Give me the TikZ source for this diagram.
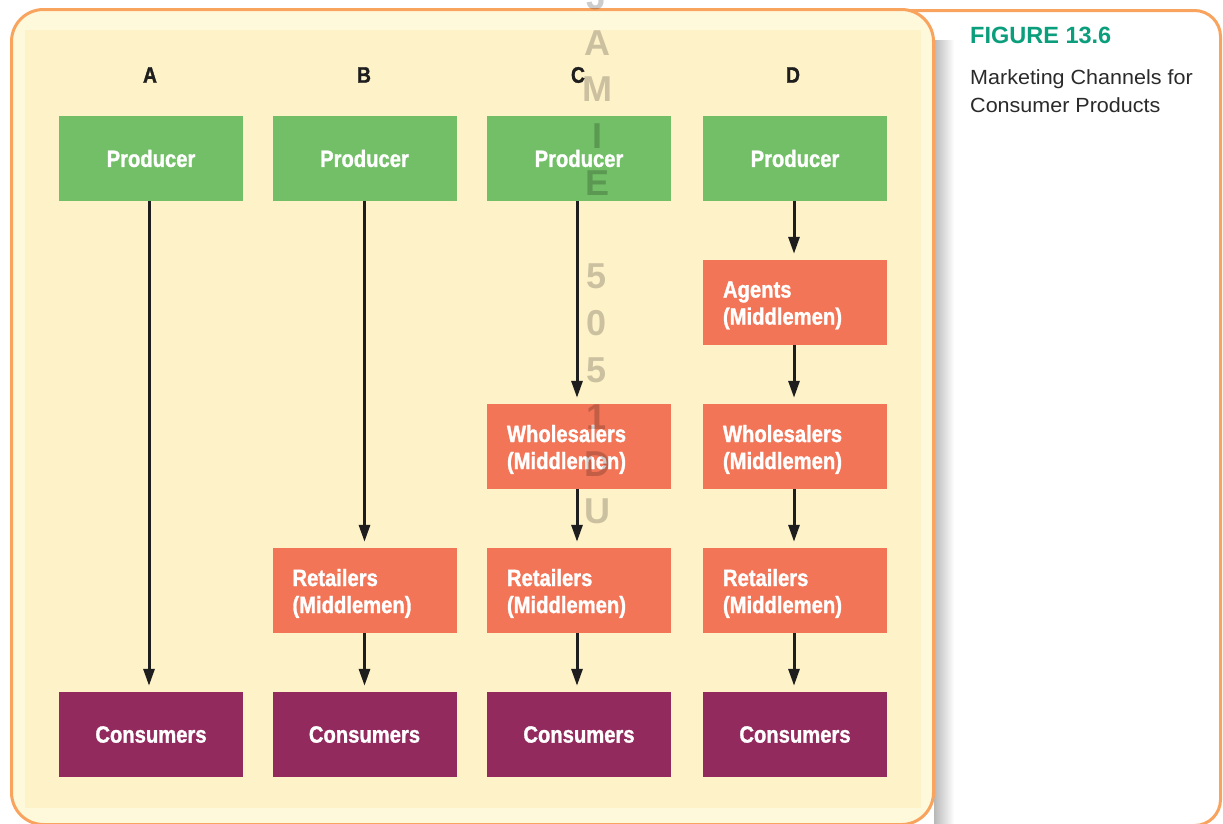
\documentclass[tikz,border=0pt]{standalone}
\usepackage{fontspec}
\setmainfont{Liberation Sans}
\newfontfamily\condfont[FakeStretch=0.86, BoldFeatures={FakeBold=1.3}]{Liberation Sans}
\newfontfamily\widefont[FakeStretch=1.05]{Liberation Sans}
\usetikzlibrary{arrows.meta}
\definecolor{prodgreen}{HTML}{72BF67}
\definecolor{midorange}{HTML}{F37558}
\definecolor{conspurple}{HTML}{922A5E}
\definecolor{outercream}{HTML}{FFF9DB}
\definecolor{innercream}{HTML}{FEF2C8}
\definecolor{bordorange}{HTML}{F8A45F}
\definecolor{titleteal}{HTML}{0B9E7C}
\definecolor{textdark}{HTML}{2A2A2A}
\definecolor{arrowblack}{HTML}{1E1E1E}
\tikzset{
  chbox/.style={minimum width=184pt, minimum height=85pt, inner sep=0pt, text=white,
    font=\condfont\bfseries\fontsize{23.5}{27}\selectfont},
  prod/.style={chbox, fill=prodgreen, align=center},
  cons/.style={chbox, fill=conspurple, align=center},
  mid/.style={chbox, fill=midorange, align=left, text width=144pt, inner xsep=20pt, text depth=26pt},
  flow/.style={draw=arrowblack, line width=3pt, -{Triangle[length=17pt,width=11pt]}, shorten >=6pt},
  collabel/.style={font=\condfont\bfseries\fontsize{22.5}{26}\selectfont, text=arrowblack, inner sep=0pt},
  wm/.style={font=\bfseries\fontsize{36}{36}\selectfont, text=black, opacity=0.2, inner sep=0pt}
}
\begin{document}
\begin{tikzpicture}[x=1pt,y=-1pt]
\useasboundingbox (0,0) rectangle (1223,823);
% right caption panel
\draw[fill=white, draw=bordorange, line width=3pt, rounded corners=26pt] (880,10.5) rectangle (1220.5,825.5);
% shadow of left panel
\shade[left color=black!28, right color=white] (934,40) rectangle (954,823);
% left panel
\draw[fill=outercream, draw=bordorange, line width=3pt, rounded corners=32pt] (11.5,9.5) rectangle (933.5,824.5);
\fill[innercream] (25,30) rectangle (921,808);

% column labels
\node[collabel] (lA) at (150,75) {A};
\node[collabel] (lB) at (364,75) {B};
\node[collabel] (lC) at (578,75) {C};
\node[collabel] (lD) at (793,75) {D};

% producers
\node[prod] (pA) at (151,158.5) {Producer};
\node[prod] (pB) at (364.5,158.5) {Producer};
\node[prod] (pC) at (579,158.5) {Producer};
\node[prod] (pD) at (795,158.5) {Producer};

% middlemen
\node[mid] (aD) at (795,302.5) {Agents\\(Middlemen)};
\node[mid] (wC) at (579,446.5) {Wholesalers\\(Middlemen)};
\node[mid] (wD) at (795,446.5) {Wholesalers\\(Middlemen)};
\node[mid] (rB) at (364.5,590.5) {Retailers\\(Middlemen)};
\node[mid] (rC) at (579,590.5) {Retailers\\(Middlemen)};
\node[mid] (rD) at (795,590.5) {Retailers\\(Middlemen)};

% consumers
\node[cons] (cA) at (151,734.5) {Consumers};
\node[cons] (cB) at (364.5,734.5) {Consumers};
\node[cons] (cC) at (579,734.5) {Consumers};
\node[cons] (cD) at (795,734.5) {Consumers};

% arrows
\draw[flow] ([xshift=-2pt]pA.south) -- ([xshift=-2pt]cA.north);
\draw[flow] (pB.south) -- (rB.north);
\draw[flow] (rB.south) -- (cB.north);
\draw[flow] ([xshift=-2pt]pC.south) -- ([xshift=-2pt]wC.north);
\draw[flow] ([xshift=-2pt]wC.south) -- ([xshift=-2pt]rC.north);
\draw[flow] ([xshift=-2pt]rC.south) -- ([xshift=-2pt]cC.north);
\draw[flow] ([xshift=-1pt]pD.south) -- ([xshift=-1pt]aD.north);
\draw[flow] ([xshift=-1pt]aD.south) -- ([xshift=-1pt]wD.north);
\draw[flow] ([xshift=-1pt]wD.south) -- ([xshift=-1pt]rD.north);
\draw[flow] ([xshift=-1pt]rD.south) -- ([xshift=-1pt]cD.north);

% caption
\node[anchor=base west, inner sep=0pt, text=titleteal, font=\bfseries\fontsize{23.5}{28}\selectfont] (title) at (970,43.5) {FIGURE 13.6};
\node[anchor=base west, inner sep=0pt, text=textdark, font=\widefont\fontsize{20.5}{28}\selectfont] (sub1) at (970,84) {Marketing Channels for};
\node[anchor=base west, inner sep=0pt, text=textdark, font=\widefont\fontsize{20.5}{28}\selectfont] (sub2) at (970,112) {Consumer Products};

% watermark
\foreach \ch/\yy [count=\i] in {J/-3,A/43,M/89,I/136,E/183,5/276,0/323,5/370,1/417,D/464,U/511}
  \node[wm] (wm\i) at (597,\yy) {\ch};
\end{tikzpicture}
\end{document}
